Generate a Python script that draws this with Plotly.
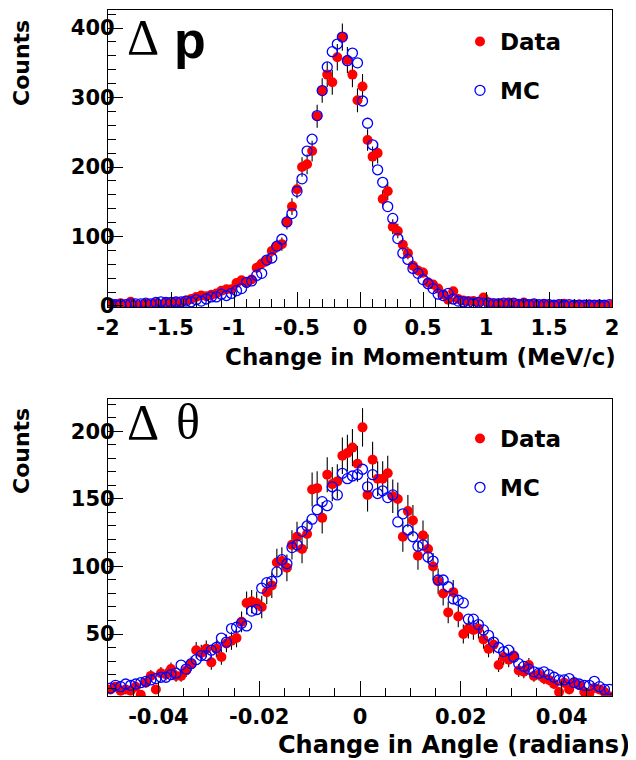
import numpy as np
import plotly.graph_objects as go

# ---------------- data ----------------
# Top panel: change in momentum, 100 bins from -2 to 2 MeV/c
p_min, p_max, p_nbins = -2.0, 2.0, 100
p_data = [3, 2, 4, 1, 6, 1, 1, 3, 2, 4, 1, 5, 4, 6, 5, 8, 10, 13, 15, 14, 16, 18,
          22, 24, 24, 33, 37, 33, 38, 55, 61, 65, 79, 86, 89, 121, 143, 168, 200, 204,
          223, 273, 310, 333, 322, 358, 387, 354, 333, 296,
          316, 239, 215, 220, 154, 165, 114, 108, 88, 76, 58, 51, 48, 34, 31, 25, 17, 9, 21, 10,
          8, 7, 7, 6, 12, 5, 4, 4, 3, 5, 4, 3, 5, 2, 3, 1, 3, 2, 1, 2, 3, 1, 1, 2, 0, 2, 1, 2, 0, 1]
p_mc = [3, 2, 2, 2, 3, 3, 3, 4, 3, 5, 6, 5, 5, 6, 6, 7, 6, 9, 7, 10, 13, 13,
        17, 15, 18, 22, 25, 34, 36, 44, 47, 66, 69, 86, 96, 121, 133, 165, 183, 223,
        240, 274, 310, 344, 366, 377, 387, 353, 364, 350,
        295, 263, 232, 196, 178, 143, 126, 97, 76, 67, 54, 47, 38, 32, 25, 17, 15, 18, 10, 7,
        6, 5, 4, 5, 4, 4, 3, 3, 4, 3, 4, 2, 3, 2, 3, 2, 2, 2, 1, 2, 1, 2, 1, 1, 1, 1, 1, 1, 1, 2]

# Bottom panel: change in angle, 100 bins from -0.05 to 0.05 rad
t_min, t_max, t_nbins = -0.05, 0.05, 100
t_data = [9, 11, 8, 9, 8, 11, 5, 14, 19, 9,
          21, 20, 24, 19, 19, 23, 28, 38, 36, 39,
          29, 39, 33, 43, 45, 47, 59, 73, 74, 73,
          70, 81, 86, 103, 104, 99, 116, 122, 113, 124,
          157, 158, 136, 168, 161, 163, 182, 184, 188, 176,
          203, 153, 179, 165, 165, 169, 152, 150, 122, 141,
          134, 108, 123, 113, 100, 89, 80, 66, 81, 63,
          50, 54, 53, 54, 46, 39, 42, 27, 33, 31,
          34, 23, 22, 27, 19, 20, 17, 16, 13, 7,
          14, 9, 14, 12, 7, 6, 10, 9, 7, 4]
t_mc = [10, 12, 11, 13, 12, 13, 14, 15, 16, 17,
        18, 18, 20, 21, 27, 24, 28, 31, 34, 34,
        38, 40, 47, 44, 54, 55, 58, 56, 67, 68,
        84, 88, 89, 96, 105, 102, 114, 116, 126, 130,
        135, 142, 148, 145, 159, 153, 169, 165, 167, 168,
        172, 159, 168, 154, 156, 151, 153, 133, 139, 127,
        122, 115, 116, 107, 104, 90, 90, 85, 76, 75,
        73, 61, 61, 57, 53, 49, 44, 40, 37, 38,
        33, 28, 26, 24, 22, 21, 22, 20, 18, 16,
        16, 17, 14, 13, 12, 12, 15, 11, 9, 9]

p_xtick_vals = [-2, -1.5, -1, -0.5, 0, 0.5, 1, 1.5, 2]
p_xtick_text = ["-2", "-1.5", "-1", "-0.5", "0", "0.5", "1", "1.5", "2"]
p_ytick_vals = [0, 100, 200, 300, 400]
t_xtick_vals = [-0.04, -0.02, 0, 0.02, 0.04]
t_xtick_text = ["-0.04", "-0.02", "0", "0.02", "0.04"]
t_ytick_vals = [50, 100, 150, 200]

series_names = ["Data", "MC"]

# ---------------- derived ----------------
def centers(lo, hi, n):
    w = (hi - lo) / n
    return lo + w * (np.arange(n) + 0.5)

p_x = centers(p_min, p_max, p_nbins)
t_x = centers(t_min, t_max, t_nbins)

RED = "#ff0000"
BLUE = "#0000ff"
FONT = "DejaVu Sans"

fig = go.Figure()

def add_panel(x, data, mc, xa, ya, legend):
    fig.add_trace(go.Scatter(
        x=x, y=data, mode="markers", name=series_names[0],
        xaxis=xa, yaxis=ya, legend=legend, legendgroup=legend + "d",
        marker=dict(color=RED, size=10, line=dict(width=0)),
        error_y=dict(type="data", array=np.sqrt(np.array(data, dtype=float)),
                     color="black", thickness=1.1, width=0),
        cliponaxis=True,
    ))
    fig.add_trace(go.Scatter(
        x=x, y=mc, mode="markers", name=series_names[1],
        xaxis=xa, yaxis=ya, legend=legend, legendgroup=legend + "m",
        marker=dict(color=BLUE, size=10, symbol="circle-open", line=dict(width=1.3, color=BLUE)),
        cliponaxis=True,
    ))

add_panel(p_x, p_data, p_mc, "x", "y", "legend")
add_panel(t_x, t_data, t_mc, "x2", "y2", "legend2")

tickfont = dict(family=FONT, size=21, color="black", weight="bold")
common = dict(showline=True, linecolor="black", linewidth=1.3, mirror=True,
              ticks="inside", tickcolor="black", tickwidth=1,
              showgrid=False, zeroline=False, tickfont=tickfont, automargin=False)

# page body has an 8px margin: plot area is 108..612 x 10..696 in the window
H = 686.0
W = 504.0
top_dom = [1 - 297 / H, 1.0]
bot_dom = [0.0, 297 / H]

def px(xr):
    return (xr - 108) / W

def py(yr):
    return (696 - yr) / H

fig.update_layout(
    width=628, height=752,
    margin=dict(l=100, r=24, t=2, b=64),
    paper_bgcolor="white", plot_bgcolor="white",
    font=dict(family=FONT, color="black"),
    xaxis=dict(range=[p_min, p_max], anchor="y", tickvals=p_xtick_vals, ticktext=p_xtick_text,
               ticklen=15, ticklabelstandoff=2,
               minor=dict(dtick=0.1, tick0=0, ticklen=8, ticks="inside", tickcolor="black", showgrid=False),
               **common),
    yaxis=dict(range=[-1.5, 426], domain=top_dom, anchor="x", tickvals=p_ytick_vals,
               ticklen=15, ticklabelstandoff=-12,
               minor=dict(dtick=20, tick0=0, ticklen=8, ticks="inside", tickcolor="black", showgrid=False),
               **common),
    xaxis2=dict(range=[t_min, t_max], anchor="y2", tickvals=t_xtick_vals, ticktext=t_xtick_text,
                ticklen=15, ticklabelstandoff=2,
                minor=dict(dtick=0.005, tick0=0, ticklen=8, ticks="inside", tickcolor="black", showgrid=False),
                **common),
    yaxis2=dict(range=[4.1, 224], domain=bot_dom, anchor="x2", tickvals=t_ytick_vals,
                ticklen=15, ticklabelstandoff=-12,
                minor=dict(dtick=10, tick0=0, ticklen=8, ticks="inside", tickcolor="black", showgrid=False),
                **common),
    legend=dict(x=px(460), y=py(20), xanchor="left", yanchor="top",
                bgcolor="rgba(0,0,0,0)", traceorder="grouped", tracegroupgap=16,
                font=dict(family=FONT, size=23, color="black", weight="bold")),
    legend2=dict(x=px(460), y=py(417), xanchor="left", yanchor="top",
                 bgcolor="rgba(0,0,0,0)", traceorder="grouped", tracegroupgap=16,
                 font=dict(family=FONT, size=23, color="black", weight="bold")),
)

title_font = dict(family=FONT, size=23, color="black", weight="bold")
title_font2 = dict(family=FONT, size=24, color="black", weight="bold")
counts_font = dict(family=FONT, size=22, color="black", weight="bold")
serif_big = dict(family="Liberation Serif", size=50, color="black")
sans_big = dict(family="Liberation Sans", size=52, color="black", weight="bold")
annotations = [
    dict(text="Change in Momentum (MeV/c)", xref="paper", yref="paper",
         x=px(618), y=py(357), xanchor="right", yanchor="middle",
         showarrow=False, font=title_font),
    dict(text="Change in Angle (radians)", xref="paper", yref="paper",
         x=px(632), y=py(745), xanchor="right", yanchor="middle",
         showarrow=False, font=title_font2),
    dict(text="Counts", xref="paper", yref="paper", textangle=-90,
         x=px(22), y=py(18), xanchor="center", yanchor="top",
         showarrow=False, font=counts_font),
    dict(text="Counts", xref="paper", yref="paper", textangle=-90,
         x=px(22), y=py(406), xanchor="center", yanchor="top",
         showarrow=False, font=counts_font),
    dict(text="Δ", xref="paper", yref="paper", x=px(125), y=py(37),
         xanchor="left", yanchor="middle", showarrow=False, font=serif_big),
    dict(text="p", xref="paper", yref="paper", x=px(172), y=py(40),
         xanchor="left", yanchor="middle", showarrow=False, font=sans_big),
    dict(text="Δ", xref="paper", yref="paper", x=px(125), y=py(422),
         xanchor="left", yanchor="middle", showarrow=False, font=serif_big),
    dict(text="θ", xref="paper", yref="paper", x=px(174), y=py(422),
         xanchor="left", yanchor="middle", showarrow=False, font=serif_big),
]
fig.update_layout(annotations=annotations)

fig.write_html("out.html")
